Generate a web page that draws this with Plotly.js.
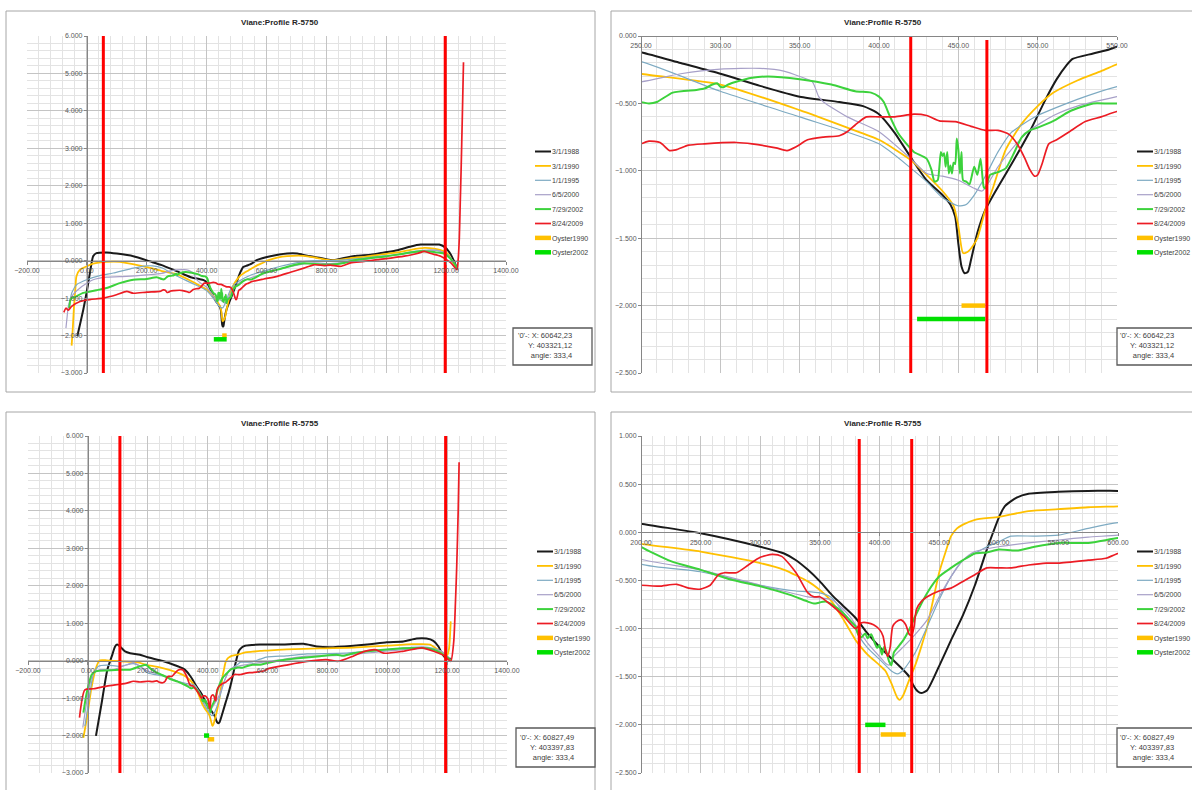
<!DOCTYPE html>
<html>
<head>
<meta charset="utf-8">
<script src="https://cdn.plot.ly/plotly-3.0.1.min.js"></script>
<style>
html,body{margin:0;padding:0;background:#ffffff;}
#chart{width:1192px;height:790px;}
</style>
</head>
<body>
<div id="chart"></div>
<script>
// ---------------- DATA ----------------
const seriesNames = ['3/1/1988','3/1/1990','1/1/1995','6/5/2000','7/29/2002','8/24/2009','Oyster1990','Oyster2002'];
const profileTitles = ['Viane:Profile R-5750','Viane:Profile R-5755'];
const coordText5750 = ["'0'-: X: 60642,23", "Y: 403321,12", "angle: 333,4"];
const coordText5755 = ["'0'-: X: 60827,49", "Y: 403397,83", "angle: 333,4"];

// Profile R-5750
const x5750_1988 = [-32,-20,-12,1,12,21,32,66,100,155,211,250,275,300,325,350,375,390,400,410,420,430,440,445,448,450,452,454,456,458,462,467,475,485,495,505,512,518,522,535,545,550,569,613,669,703,736,781,825,859,903,948,993,1037,1082,1115,1149,1177,1199,1216,1229,1238];
const y5750_1988 = [-2.02,-1.6,-1.31,-0.77,-0.24,0.12,0.2,0.22,0.19,0.12,-0.02,-0.12,-0.2,-0.28,-0.37,-0.45,-0.49,-0.52,-0.58,-0.72,-0.9,-1.07,-1.18,-1.25,-1.34,-1.54,-1.71,-1.76,-1.75,-1.66,-1.46,-1.29,-1.12,-0.92,-0.71,-0.47,-0.32,-0.22,-0.17,-0.13,-0.1,-0.08,0.02,0.12,0.19,0.19,0.13,0.07,0.01,0.07,0.13,0.16,0.22,0.28,0.38,0.43,0.43,0.43,0.34,0.16,-0.06,-0.24];
const x5750_1990 = [-51,-47,-43,-38,-35,-23,0,21,66,110,177,244,250,300,350,380,400,420,430,440,447,450,453,456,459,462,467,472,480,490,500,510,525,540,550,570,590,602,636,669,725,770,814,848,881,926,981,1037,1082,1127,1160,1182,1205,1221,1236];
const y5750_1990 = [-2.27,-1.8,-1.22,-0.7,-0.42,-0.24,-0.15,-0.08,-0.03,-0.03,-0.13,-0.26,-0.28,-0.36,-0.55,-0.68,-0.77,-0.92,-1.03,-1.15,-1.26,-1.41,-1.61,-1.6,-1.56,-1.5,-1.29,-1.12,-0.84,-0.65,-0.52,-0.42,-0.33,-0.26,-0.21,-0.12,-0.05,0,0.08,0.12,0.13,0.07,0.01,0.03,0.07,0.1,0.16,0.22,0.29,0.34,0.32,0.28,0.19,-0.02,-0.24];
const x5750_1995 = [-57,-50,-34,-1,43,88,155,200,220,250,300,350,400,420,430,440,450,455,460,467,475,483,490,500,525,550,591,647,703,758,814,870,926,981,1037,1093,1149,1182,1205,1227,1238];
const y5750_1995 = [-1.09,-0.85,-0.64,-0.51,-0.4,-0.33,-0.2,-0.14,-0.14,-0.19,-0.41,-0.6,-0.8,-0.98,-1.08,-1.2,-1.26,-1.25,-1.18,-1.04,-0.86,-0.72,-0.66,-0.59,-0.47,-0.375,-0.28,-0.15,-0.05,0,0,0.03,0.07,0.12,0.16,0.25,0.28,0.25,0.16,-0.06,-0.24];
const x5750_2000 = [-70,-66,-62,-51,-23,21,66,133,200,250,275,300,325,340,350,358,362,365,380,400,420,430,440,450,460,465,470,475,485,495,510,525,550,591,647,703,758,814,870,926,981,1037,1093,1149,1182,1205,1227,1238];
const y5750_2000 = [-1.8,-1.5,-1.22,-0.96,-0.73,-0.51,-0.44,-0.42,-0.38,-0.34,-0.28,-0.245,-0.24,-0.26,-0.3,-0.34,-0.45,-0.49,-0.6,-0.71,-0.91,-1.02,-1.04,-1.07,-1.13,-1.15,-1.07,-0.97,-0.82,-0.7,-0.59,-0.52,-0.45,-0.35,-0.22,-0.12,-0.06,-0.08,-0.04,0.03,0.1,0.16,0.22,0.28,0.25,0.13,-0.06,-0.24];
const x5750_2002 = [-59,-55,-51,-40,-12,32,66,110,155,200,233,250,255,260,270,285,290,295,298,300,302,305,310,320,330,350,370,385,395,400,403,407,412,418,422,430,433,435,437,438,439,440,441,442,443,444,445,446,447,448,449,450,451,452,453,455,457,460,462,464,466,467,470,475,480,485,490,495,500,510,520,535,550,570,591,636,680,725,781,814,859,892,948,1004,1060,1115,1160,1193,1216,1233,1238];
const y5750_2002 = [-1.27,-1.05,-1.0,-0.97,-0.86,-0.79,-0.73,-0.6,-0.51,-0.49,-0.44,-0.49,-0.5,-0.49,-0.42,-0.4,-0.39,-0.36,-0.35,-0.375,-0.38,-0.36,-0.34,-0.31,-0.3,-0.32,-0.36,-0.41,-0.42,-0.45,-0.49,-0.6,-0.72,-0.81,-0.86,-0.91,-0.99,-1.08,-1.07,-0.98,-0.86,-0.89,-0.87,-0.97,-0.86,-1.02,-0.96,-1.02,-0.94,-0.95,-0.76,-0.84,-1.02,-0.86,-1.07,-1.08,-1.1,-0.97,-1.03,-0.91,-1.12,-1.13,-1.03,-1.01,-0.98,-0.87,-0.75,-0.7,-0.68,-0.63,-0.56,-0.5,-0.5,-0.42,-0.33,-0.24,-0.14,-0.07,-0.1,-0.1,-0.06,0.01,0.07,0.12,0.19,0.25,0.23,0.19,0.04,-0.15,-0.24];
const x5750_2009 = [-77,-70,-62,-51,-23,10,55,99,133,155,200,244,250,255,262,268,272,280,290,310,320,335,342,348,355,365,375,380,385,392,400,410,422,430,438,448,458,467,475,482,487,492,495,498,500,503,507,512,520,530,540,550,591,636,680,725,758,792,814,848,881,926,970,1015,1060,1104,1127,1149,1182,1216,1236,1240,1244,1247,1250,1254,1258];
const y5750_2009 = [-1.38,-1.27,-1.32,-1.22,-1.09,-1.04,-1.0,-0.91,-0.82,-0.87,-0.84,-0.82,-0.8,-0.78,-0.79,-0.85,-0.845,-0.81,-0.8,-0.79,-0.8,-0.83,-0.85,-0.82,-0.77,-0.75,-0.74,-0.71,-0.66,-0.6,-0.6,-0.6,-0.58,-0.59,-0.63,-0.635,-0.67,-0.7,-0.7,-0.73,-0.8,-0.91,-0.99,-1.04,-1.03,-0.94,-0.8,-0.77,-0.71,-0.635,-0.6,-0.56,-0.49,-0.42,-0.31,-0.2,-0.11,-0.13,-0.12,-0.15,-0.06,-0.02,0.03,0.07,0.12,0.19,0.25,0.19,0.12,-0.06,-0.24,0.0,0.6,1.5,2.4,3.8,5.3];
const xOy1990_5750 = [452,467];
const yOy1990_5750 = [-2.0,-2.0];
const xOy2002_5750 = [424,467];
const yOy2002_5750 = [-2.1,-2.1];

// Profile R-5755
const x5755_1988 = [27,46,65,80,91,98,107,124,141,174,200,250,300,320,330,340,350,360,370,380,390,400,410,420,425,428,432,435,440,450,460,470,480,490,495,500,505,515,525,550,575,600,650,720,764,809,887,942,998,1054,1098,1131,1154,1171,1182,1196,1212];
const y5755_1988 = [-2.01,-1.13,-0.24,0.12,0.38,0.43,0.38,0.25,0.2,0.16,0.09,-0.01,-0.15,-0.22,-0.29,-0.39,-0.51,-0.65,-0.77,-0.89,-1.05,-1.19,-1.31,-1.43,-1.5,-1.58,-1.65,-1.67,-1.64,-1.39,-1.12,-0.86,-0.55,-0.18,-0.01,0.15,0.27,0.36,0.4,0.42,0.43,0.43,0.43,0.45,0.38,0.36,0.4,0.44,0.49,0.51,0.59,0.59,0.53,0.38,0.2,0.07,0.05];
const x5755_1990 = [-15,-4,13,29,40,63,107,163,200,250,300,320,340,350,360,370,380,385,390,400,405,410,415,417,420,425,430,435,440,445,450,455,460,465,470,480,500,525,550,575,600,664,775,887,998,1087,1143,1176,1198,1206,1212];
const y5755_1990 = [-2.06,-1.57,-0.68,-0.15,0.01,0.01,-0.02,-0.04,-0.12,-0.2,-0.32,-0.39,-0.51,-0.6,-0.72,-0.91,-1.12,-1.2,-1.27,-1.38,-1.44,-1.57,-1.72,-1.74,-1.69,-1.53,-1.38,-1.19,-0.98,-0.7,-0.42,-0.22,-0.04,0.04,0.08,0.13,0.16,0.22,0.24,0.26,0.27,0.3,0.33,0.35,0.4,0.44,0.43,0.25,0.1,0.3,1.05];
const x5755_1995 = [-10,7,18,35,63,107,152,174,200,250,300,330,350,360,370,380,385,390,400,410,415,420,430,440,450,460,470,480,490,500,510,530,550,575,600,664,732,860,988,1116,1154,1181,1206];
const y5755_1995 = [-1.75,-0.86,-0.37,-0.15,-0.12,-0.15,-0.08,-0.15,-0.33,-0.41,-0.55,-0.61,-0.63,-0.68,-0.84,-1.01,-1.12,-1.2,-1.32,-1.44,-1.47,-1.43,-1.25,-0.98,-0.7,-0.46,-0.29,-0.22,-0.15,-0.1,-0.04,-0.04,-0.03,0.04,0.1,0.13,0.18,0.2,0.29,0.37,0.33,0.25,0.08];
const x5755_2000 = [-17,2,18,40,85,130,152,174,200,250,300,340,360,375,385,390,400,405,408,412,420,430,440,450,460,470,480,500,525,550,575,600,664,732,860,988,1116,1154,1181,1206];
const y5755_2000 = [-1.79,-0.82,-0.33,-0.24,-0.24,-0.11,-0.05,-0.15,-0.28,-0.39,-0.55,-0.67,-0.7,-0.87,-1.06,-1.15,-1.29,-1.36,-1.38,-1.29,-1.19,-1.06,-0.91,-0.67,-0.46,-0.29,-0.2,-0.15,-0.11,-0.08,-0.05,-0.03,0.05,0.12,0.15,0.25,0.33,0.3,0.25,0.08];
const x5755_2002 = [-15,-4,13,29,63,107,141,174,196,200,225,250,275,300,325,340,345,355,365,375,380,382,385,388,390,393,396,398,400,402,404,406,408,410,412,415,420,425,430,440,450,460,470,480,490,500,515,530,550,575,600,664,720,775,831,853,887,998,1054,1132,1165,1198,1212];
const y5755_2002 = [-1.39,-0.86,-0.37,-0.28,-0.26,-0.24,-0.24,-0.15,-0.11,-0.15,-0.3,-0.39,-0.49,-0.56,-0.65,-0.72,-0.74,-0.72,-0.79,-0.91,-0.98,-1.06,-1.09,-1.05,-1.1,-1.06,-1.15,-1.2,-1.17,-1.27,-1.19,-1.25,-1.34,-1.38,-1.25,-1.2,-1.12,-1.01,-0.87,-0.63,-0.46,-0.37,-0.29,-0.22,-0.21,-0.18,-0.19,-0.15,-0.11,-0.11,-0.06,0.03,0.08,0.12,0.16,0.13,0.2,0.3,0.33,0.33,0.26,0.1,0.0];
const x5755_2009 = [-28,-10,20,63,107,130,152,174,200,215,230,240,250,258,265,270,280,290,300,310,318,330,340,345,350,358,370,380,385,390,395,400,403,405,407,409,411,414,418,422,425,427,429,431,435,440,450,460,470,480,490,500,510,525,540,550,575,590,600,668,732,796,835,886,924,963,988,1052,1116,1155,1193,1212,1222,1228,1232,1237,1240];
const y5755_2009 = [-1.52,-0.78,-0.75,-0.68,-0.63,-0.6,-0.55,-0.57,-0.55,-0.56,-0.54,-0.58,-0.59,-0.55,-0.44,-0.42,-0.42,-0.34,-0.26,-0.23,-0.25,-0.42,-0.63,-0.67,-0.67,-0.74,-0.87,-1.0,-0.94,-0.94,-0.96,-1.01,-1.08,-1.22,-1.29,-1.19,-0.98,-0.93,-0.91,-0.96,-1.06,-1.07,-0.98,-0.8,-0.72,-0.67,-0.61,-0.58,-0.51,-0.44,-0.37,-0.37,-0.37,-0.34,-0.32,-0.32,-0.29,-0.27,-0.22,-0.11,-0.02,0.03,-0.02,0.12,0.25,0.29,0.2,0.25,0.34,0.25,0.12,-0.02,0.5,1.6,2.5,4.0,5.3];
const xOy1990_5755 = [401,422];
const yOy1990_5755 = [-2.1,-2.1];
const xOy2002_5755 = [388,405];
const yOy2002_5755 = [-2.0,-2.0];

// red marker lines (x position, top value, bottom value) per panel
const redTL_x = [55,1197];   const redTL_top = [6,6];        const redTL_bot = [-3,-3];
const redTR_x = [420,468];   const redTR_top = [0,-0.03];    const redTR_bot = [-2.6,-2.6];
const redBL_x = [107,1195];  const redBL_top = [6,6];        const redBL_bot = [-3,-3];
const redBR_x = [383,427];   const redBR_top = [0.97,0.97];  const redBR_bot = [-2.6,-2.6];

// ---------------- STYLE ----------------
const W = 1192, H = 790;
const FONT = '"Liberation Sans", Arial, sans-serif';
const colors = ['#1a1a1a','#FFC000','#7DAAC2','#A7A0C8','#3CD23C','#EC1C24','#FFC000','#00E000'];
const widths = [2,1.8,1.2,1.2,2,1.7,4.5,4.5];
const LEG_STEP = 14.4;

const set5750 = [[x5750_1988,y5750_1988],[x5750_1990,y5750_1990],[x5750_1995,y5750_1995],[x5750_2000,y5750_2000],[x5750_2002,y5750_2002],[x5750_2009,y5750_2009],[xOy1990_5750,yOy1990_5750],[xOy2002_5750,yOy2002_5750]];
const set5755 = [[x5755_1988,y5755_1988],[x5755_1990,y5755_1990],[x5755_1995,y5755_1995],[x5755_2000,y5755_2000],[x5755_2002,y5755_2002],[x5755_2009,y5755_2009],[xOy1990_5755,yOy1990_5755],[xOy2002_5755,yOy2002_5755]];

// panel geometry in page pixels
const panels = [
  {ax:'', data:set5750, title:profileTitles[0], coord:coordText5750, px:[27,506], py:[36,373], xr:[-200,1400], yr:[-3,6], xd:200, xm:40, yd:1, ym:0.2, xf:'.2f', yf:'.3f',
   red:[redTL_x,redTL_top,redTL_bot], frame:[6,11,595,392], titleX:280, titleY:22, legX:512, legY:137, box:[513,328,592,365], textR:574, textY:345, legend:'legend'},
  {ax:'2', data:set5750, title:profileTitles[0], coord:coordText5750, px:[641,1117], py:[36,373], xr:[250,550], yr:[-2.5,0], xd:50, xm:10, yd:0.5, ym:0.1, xf:'.2f', yf:'.3f',
   red:[redTR_x,redTR_top,redTR_bot], frame:[611,11,1200,392], titleX:883, titleY:22, legX:1114, legY:137, box:[1117,328,1200,365], textR:1176, textY:345, legend:'legend2'},
  {ax:'3', data:set5755, title:profileTitles[1], coord:coordText5755, px:[28,507], py:[436,773], xr:[-200,1400], yr:[-3,6], xd:200, xm:40, yd:1, ym:0.2, xf:'.2f', yf:'.3f',
   red:[redBL_x,redBL_top,redBL_bot], frame:[6,412,595,800], titleX:280, titleY:423, legX:514, legY:537, box:[516,728,595,767], textR:576, textY:747, legend:'legend3'},
  {ax:'4', data:set5755, title:profileTitles[1], coord:coordText5755, px:[641,1118], py:[436,773], xr:[200,600], yr:[-2.5,1], xd:50, xm:10, yd:0.5, ym:0.1, xf:'.2f', yf:'.3f',
   red:[redBR_x,redBR_top,redBR_bot], frame:[611,412,1200,800], titleX:883, titleY:423, legX:1114, legY:537, box:[1117,728,1200,767], textR:1176, textY:747, legend:'legend4'}
];

const fx = p => p / W;
const fy = p => 1 - p / H;

const traces = [];
const layout = {
  width: W, height: H,
  margin: {l:0, r:0, t:0, b:0, autoexpand:false},
  paper_bgcolor: '#ffffff', plot_bgcolor: 'rgba(0,0,0,0)',
  font: {family: FONT, size: 7, color: '#595959'},
  showlegend: true, hovermode: false,
  shapes: [], annotations: []
};

panels.forEach(function(p){
  const xa = 'x' + p.ax, ya = 'y' + p.ax;
  p.data.forEach(function(s, i){
    traces.push({
      type:'scatter', mode:'lines', x:s[0], y:s[1], name:seriesNames[i],
      xaxis:xa, yaxis:ya, legend:p.legend,
      line:{color:colors[i], width:widths[i], shape:(i>=6?'linear':'spline'), smoothing:0.6},
      hoverinfo:'skip'
    });
  });
  const rx = [], ry = [];
  p.red[0].forEach(function(v, k){ rx.push(v, v, null); ry.push(p.red[1][k], p.red[2][k], null); });
  traces.push({type:'scatter', mode:'lines', x:rx, y:ry, xaxis:xa, yaxis:ya, showlegend:false,
    line:{color:'#FF0000', width:3}, hoverinfo:'skip'});

  const xd = [fx(p.px[0]), fx(p.px[1])];
  const yd = [fy(p.py[1]), fy(p.py[0])];
  const cxv = Math.min(Math.max(p.xr[0], 0), p.xr[1]);
  const cyv = Math.min(Math.max(p.yr[0], 0), p.yr[1]);
  const yPosX = xd[0] + (cxv - p.xr[0]) / (p.xr[1]-p.xr[0]) * (xd[1]-xd[0]);
  const xPosY = yd[0] + (cyv - p.yr[0]) / (p.yr[1]-p.yr[0]) * (yd[1]-yd[0]);

  const common = {
    showgrid: true, gridcolor: '#c4c4c4', gridwidth: 1,
    zeroline: false, showline: true, linecolor: '#868686', linewidth: 1,
    ticks: 'outside', ticklen: 3, tickcolor: '#868686',
    tickfont: {family: FONT, size: 7, color: '#595959'}, fixedrange: true
  };
  layout['xaxis' + p.ax] = Object.assign({
    domain: xd, range: p.xr, anchor:'free', position: xPosY,
    dtick: p.xd, tick0: 0, tickformat: p.xf,
    minor: {dtick: p.xm, tick0: 0, showgrid: true, gridcolor: '#e3e3e3', gridwidth: 1}
  }, common);
  layout['yaxis' + p.ax] = Object.assign({
    domain: yd, range: p.yr, anchor:'free', position: yPosX,
    dtick: p.yd, tick0: 0, tickformat: p.yf,
    minor: {dtick: p.ym, tick0: 0, showgrid: true, gridcolor: '#e3e3e3', gridwidth: 1}
  }, common);

  layout[p.legend] = {
    x: fx(p.legX), y: fy(p.legY), xanchor:'left', yanchor:'top',
    bgcolor:'rgba(0,0,0,0)', borderwidth:0,
    font:{family: FONT, size: 7, color:'#404040'}, itemwidth:30
  };

  layout.shapes.push({type:'rect', xref:'paper', yref:'paper',
    x0: fx(p.frame[0]), x1: fx(p.frame[2]), y0: fy(p.frame[3]), y1: fy(p.frame[1]),
    line:{color:'#a6a6a6', width:1}, fillcolor:'rgba(0,0,0,0)', layer:'below'});
  layout.shapes.push({type:'rect', xref:'paper', yref:'paper',
    x0: fx(p.box[0]), x1: fx(p.box[2]), y0: fy(p.box[3]), y1: fy(p.box[1]),
    line:{color:'#5a5a5a', width:1.3}, fillcolor:'#ffffff', layer:'above'});
  layout.annotations.push({xref:'paper', yref:'paper', x: fx(p.textR), y: fy(p.textY),
    xanchor:'right', yanchor:'middle', align:'right', showarrow:false,
    text: p.coord.join('<br>'), font:{family: FONT, size: 7.5, color:'#404040'}});
  layout.annotations.push({xref:'paper', yref:'paper', x: fx(p.titleX), y: fy(p.titleY),
    xanchor:'center', yanchor:'middle', showarrow:false,
    text: p.title, font:{family: FONT, size: 8, color:'#262626', weight:'bold'}});
});

Plotly.newPlot('chart', traces, layout, {staticPlot:true, displayModeBar:false}).then(function(gd){
  ['legend','legend2','legend3','legend4'].forEach(function(id){
    const g = gd.querySelector('g.' + id);
    if(!g) return;
    const items = g.querySelectorAll('g.traces');
    let y0 = null;
    items.forEach(function(it, i){
      const t = it.getAttribute('transform') || '';
      const m = /translate\(\s*([-\d.e]+)[\s,]*([-\d.e]+)?\s*\)/.exec(t);
      if(!m) return;
      const x = parseFloat(m[1]);
      const y = parseFloat(m[2] || '0');
      if(y0 === null) y0 = y;
      it.setAttribute('transform', 'translate(' + x + ',' + (y0 + i*LEG_STEP) + ')');
      // shorter legend line sample, touching the label as in the original
      it.querySelectorAll('path.js-line').forEach(function(pth){ pth.setAttribute('d', 'M23,0h16'); });
    });
  });
});
</script>
</body>
</html>
